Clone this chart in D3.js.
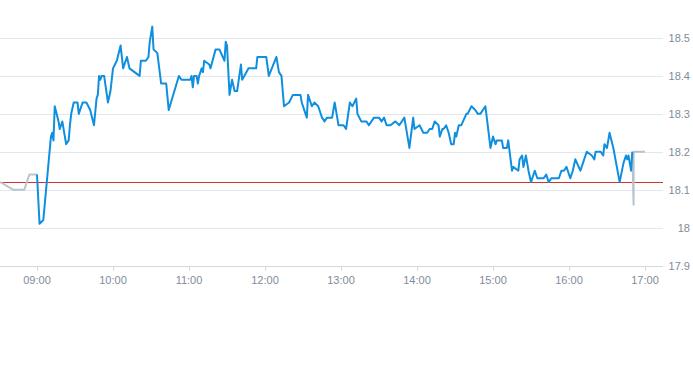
<!DOCTYPE html>
<html lang="en">
<head>
<meta charset="utf-8">
<title>Intraday</title>
<style>
    body { margin: 0; background: #fff; }
    svg { display: block; }
    .tick-label { font: 11px "Liberation Sans", Arial, sans-serif; fill: #7f8b98; }
</style>
<script src="https://d3js.org/d3.v7.min.js"></script>
</head>
<body>
<svg id="chart" width="693" height="365"></svg>
<script>

    // pre-market (grey)
    var preTimes = ["08:31", "08:41", "08:50", "08:54", "09:00"];
    var preValues = [18.12, 18.10, 18.10, 18.14, 18.14];

    // trading session (blue)
    var times = [
        "09:00", "09:02", "09:05", "09:11", "09:12", "09:13", "09:14", "09:17", "09:18", "09:20",
        "09:23", "09:25", "09:26", "09:27", "09:29", "09:32", "09:33", "09:35", "09:36", "09:39",
        "09:42", "09:45", "09:47", "09:48", "09:49", "09:50", "09:51", "09:53", "09:56", "09:58",
        "10:00", "10:03", "10:06", "10:08", "10:11", "10:13", "10:17", "10:21", "10:22", "10:26",
        "10:28", "10:29", "10:31", "10:32", "10:35", "10:38", "10:42", "10:44", "10:52", "10:54",
        "11:01", "11:02", "11:03", "11:04", "11:06", "11:07", "11:08", "11:09", "11:10", "11:11",
        "11:12", "11:16", "11:17", "11:21", "11:24", "11:28", "11:29", "11:30", "11:32", "11:34",
        "11:36", "11:38", "11:41", "11:42", "11:47", "11:53", "11:54", "12:01", "12:03", "12:09",
        "12:11", "12:13", "12:15", "12:19", "12:22", "12:28", "12:29", "12:33", "12:34", "12:37",
        "12:39", "12:42", "12:45", "12:47", "12:49", "12:53", "12:55", "12:58", "13:02", "13:04",
        "13:07", "13:09", "13:12", "13:13", "13:16", "13:20", "13:22", "13:26", "13:30", "13:32",
        "13:34", "13:36", "13:39", "13:43", "13:46", "13:50", "13:54", "13:57", "13:58", "14:02",
        "14:05", "14:08", "14:10", "14:12", "14:14", "14:17", "14:18", "14:20", "14:21", "14:23",
        "14:25", "14:27", "14:29", "14:30", "14:31", "14:33", "14:35", "14:39", "14:40", "14:43",
        "14:46", "14:48", "14:50", "14:54", "14:58", "15:00", "15:02", "15:03", "15:07", "15:08",
        "15:11", "15:12", "15:15", "15:16", "15:20", "15:21", "15:23", "15:24", "15:26", "15:28",
        "15:30", "15:33", "15:35", "15:40", "15:42", "15:44", "15:46", "15:52", "15:54", "15:56",
        "15:58", "16:01", "16:03", "16:05", "16:09", "16:11", "16:14", "16:18", "16:20", "16:21",
        "16:25", "16:27", "16:28", "16:30", "16:31", "16:32", "16:35", "16:40", "16:43", "16:45",
        "16:46", "16:47", "16:49", "16:50"
    ];
    var prices = [
        18.14, 18.01, 18.02, 18.24, 18.25, 18.23, 18.32, 18.28, 18.26, 18.28,
        18.22, 18.23, 18.27, 18.30, 18.33, 18.33, 18.30, 18.32, 18.33, 18.33,
        18.31, 18.27, 18.34, 18.35, 18.40, 18.39, 18.40, 18.40, 18.33, 18.36,
        18.42, 18.44, 18.48, 18.42, 18.45, 18.42, 18.41, 18.40, 18.44, 18.44,
        18.45, 18.49, 18.53, 18.47, 18.46, 18.38, 18.38, 18.31, 18.40, 18.39,
        18.39, 18.40, 18.37, 18.40, 18.40, 18.38, 18.40, 18.41, 18.42, 18.41,
        18.44, 18.43, 18.42, 18.47, 18.47, 18.44, 18.49, 18.48, 18.35, 18.39,
        18.36, 18.36, 18.43, 18.39, 18.42, 18.42, 18.45, 18.45, 18.40, 18.45,
        18.41, 18.40, 18.32, 18.33, 18.35, 18.35, 18.33, 18.29, 18.35, 18.32,
        18.33, 18.32, 18.29, 18.28, 18.29, 18.29, 18.33, 18.27, 18.27, 18.26,
        18.33, 18.32, 18.34, 18.30, 18.28, 18.28, 18.27, 18.29, 18.29, 18.28,
        18.29, 18.27, 18.27, 18.28, 18.27, 18.29, 18.21, 18.29, 18.26, 18.27,
        18.25, 18.25, 18.26, 18.26, 18.28, 18.27, 18.24, 18.26, 18.26, 18.27,
        18.25, 18.22, 18.22, 18.25, 18.24, 18.27, 18.27, 18.30, 18.30, 18.32,
        18.31, 18.30, 18.30, 18.32, 18.21, 18.24, 18.22, 18.23, 18.23, 18.21,
        18.21, 18.23, 18.15, 18.16, 18.15, 18.18, 18.19, 18.16, 18.19, 18.15,
        18.12, 18.15, 18.13, 18.13, 18.14, 18.12, 18.13, 18.13, 18.15, 18.15,
        18.16, 18.13, 18.15, 18.18, 18.15, 18.17, 18.20, 18.19, 18.18, 18.20,
        18.20, 18.19, 18.22, 18.21, 18.23, 18.25, 18.21, 18.12, 18.17, 18.19,
        18.18, 18.19, 18.15, 18.20
    ];

    // after close (grey)
    var postTimes = ["16:50", "16:51", "16:51", "17:00"];
    var postValues = [18.20, 18.06, 18.20, 18.20];

    var prevClose = 18.12;

    var yTicks = [17.9, 18.0, 18.1, 18.2, 18.3, 18.4, 18.5];
    var xTickLabels = ["09:00", "10:00", "11:00", "12:00", "13:00", "14:00", "15:00", "16:00", "17:00"];

    var plotW = 663;
    var parse = d3.timeParse("%H:%M");

    var x = d3.scaleTime()
        .domain([parse("08:30"), parse("17:15")])
        .range([-1, 664]);
    var y = d3.scaleLinear()
        .domain([17.9, 18.5])
        .range([265.5, 38]);

    var svg = d3.select("#chart");

    // grid
    svg.append("g")
        .selectAll("line")
        .data(yTicks)
        .enter()
        .append("line")
        .attr("x1", 0)
        .attr("x2", plotW)
        .attr("y1", d => Math.round(y(d)) + 0.5)
        .attr("y2", d => Math.round(y(d)) + 0.5)
        .style("stroke", d => d === 17.9 ? "#d4d9df" : "#e3e6ea")
        .style("stroke-width", 1);

    // y labels on the right
    svg.append("g")
        .selectAll("text")
        .data(yTicks)
        .enter()
        .append("text")
        .attr("class", "tick-label")
        .attr("x", 690)
        .attr("y", d => y(d) + 4)
        .attr("text-anchor", "end")
        .text(d => d3.format("")(+d.toFixed(1)));

    // x axis ticks + labels
    var xAxis = svg.append("g");
    xAxis.selectAll("line")
        .data(xTickLabels)
        .enter()
        .append("line")
        .attr("x1", d => Math.round(x(parse(d))) + 0.5)
        .attr("x2", d => Math.round(x(parse(d))) + 0.5)
        .attr("y1", 266)
        .attr("y2", 271)
        .style("stroke", "#d4d9df");
    xAxis.selectAll("text")
        .data(xTickLabels)
        .enter()
        .append("text")
        .attr("class", "tick-label")
        .attr("x", d => x(parse(d)))
        .attr("y", 284)
        .attr("text-anchor", "middle")
        .text(d => d);

    // previous close
    svg.append("line")
        .attr("x1", 0)
        .attr("x2", plotW)
        .attr("y1", Math.round(y(prevClose)) + 0.5)
        .attr("y2", Math.round(y(prevClose)) + 0.5)
        .style("stroke", "#d2302b")
        .style("stroke-width", 1);

    var line = d3.line()
        .x(d => x(parse(d[0])))
        .y(d => y(d[1]));

    function draw(ts, vs, color) {
        svg.append("path")
            .datum(ts.map((t, i) => [t, vs[i]]))
            .attr("d", line)
            .style("fill", "none")
            .style("stroke", color)
            .style("stroke-width", 2)
            .style("stroke-linejoin", "round");
    }

    draw(preTimes, preValues, "#bac5ce");
    draw(postTimes, postValues, "#b6c3cd");
    draw(times, prices, "#0f8fde");

</script>
</body>
</html>
